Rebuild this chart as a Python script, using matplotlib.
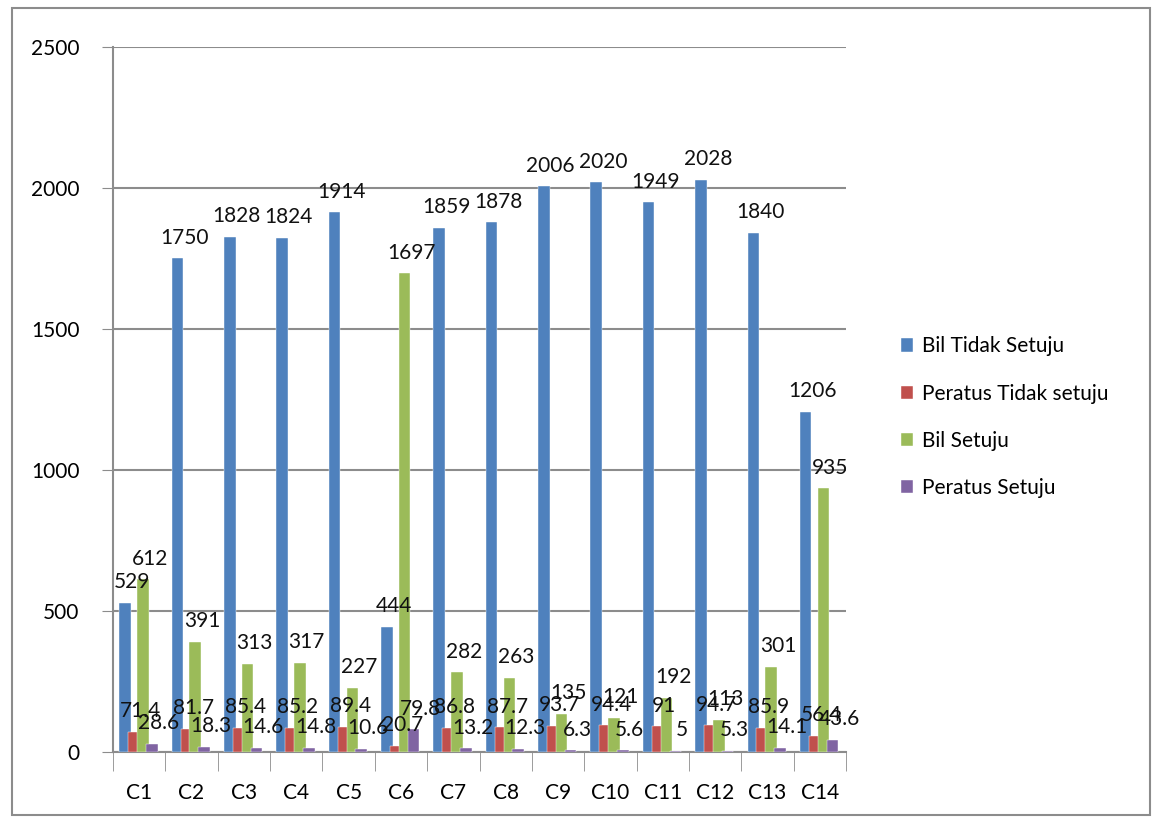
import matplotlib
matplotlib.use("Agg")
import matplotlib.pyplot as plt
import numpy as np
from matplotlib.patches import Rectangle

categories = ["C1", "C2", "C3", "C4", "C5", "C6", "C7", "C8", "C9", "C10", "C11", "C12", "C13", "C14"]
bil_tidak = [529, 1750, 1828, 1824, 1914, 444, 1859, 1878, 2006, 2020, 1949, 2028, 1840, 1206]
pct_tidak = [71.4, 81.7, 85.4, 85.2, 89.4, 20.7, 86.8, 87.7, 93.7, 94.4, 91, 94.7, 85.9, 56.4]
bil_setuju = [612, 391, 313, 317, 227, 1697, 282, 263, 135, 121, 192, 113, 301, 935]
pct_setuju = [28.6, 18.3, 14.6, 14.8, 10.6, 79.8, 13.2, 12.3, 6.3, 5.6, 5, 5.3, 14.1, 43.6]
series_names = ["Bil Tidak Setuju", "Peratus Tidak setuju", "Bil Setuju", "Peratus Setuju"]
colors = ["#4F81BD", "#C0504D", "#9BBB59", "#8064A2"]
yticks = [0, 500, 1000, 1500, 2000, 2500]

plt.rcParams['font.family'] = ['Lato', 'DejaVu Sans']

fig = plt.figure(figsize=(11.53, 8.21), dpi=100)
fig.patches.append(Rectangle((12/1153, 1-815/821), (1150-12)/1153, (815-8)/821,
                             transform=fig.transFigure, fill=False, edgecolor="#8c8c8c", lw=1.5))
ax = fig.add_axes([113/1153, 1-752/821, (846-113)/1153, (752-47)/821])

x = np.arange(len(categories))
w = 0.22
offsets = [-0.27, -0.1, 0.07, 0.24]
data = [bil_tidak, pct_tidak, bil_setuju, pct_setuju]
for i, (vals, col, name) in enumerate(zip(data, colors, series_names)):
    ax.bar(x + offsets[i], vals, width=w, color=col, label=name, zorder=3,
           edgecolor="#ffffff", linewidth=0.3)
    for xi, v in zip(x + offsets[i], vals):
        ax.text(xi + 0.13, v + 38, f"{v:g}", ha="center", va="bottom", fontsize=15,
                color="#111111", zorder=5)

ax.set_xlim(-0.5, len(categories) - 0.5)
ax.set_ylim(0, 2500)
ax.set_yticks(yticks)
ax.set_yticklabels([str(t) for t in yticks], fontsize=15)
ax.set_xticks(x)
ax.set_xticklabels(categories, fontsize=15)
ax.tick_params(axis="x", length=0, pad=22)
ax.tick_params(axis="y", length=8, color="#8c8c8c", pad=16)
ax.set_xticks(np.arange(-0.5, len(categories), 1), minor=True)
ax.tick_params(axis="x", which="minor", length=14, color="#8c8c8c")
ax.grid(axis="y", color="#8c8c8c", linewidth=1.5, zorder=0)
for s in ["top", "right"]:
    ax.spines[s].set_visible(False)
ax.spines["left"].set_color("#8c8c8c")
ax.spines["left"].set_linewidth(1.5)
ax.spines["bottom"].set_color("#8c8c8c")
ax.spines["bottom"].set_linewidth(1.5)

handles, labels = ax.get_legend_handles_labels()
fig.legend(handles, labels, loc="center left", bbox_to_anchor=(0.765, 0.492), frameon=False,
           fontsize=15, handlelength=0.6, handleheight=0.6, labelspacing=1.3, handletextpad=0.4)

fig.savefig("out.png", dpi=100)
